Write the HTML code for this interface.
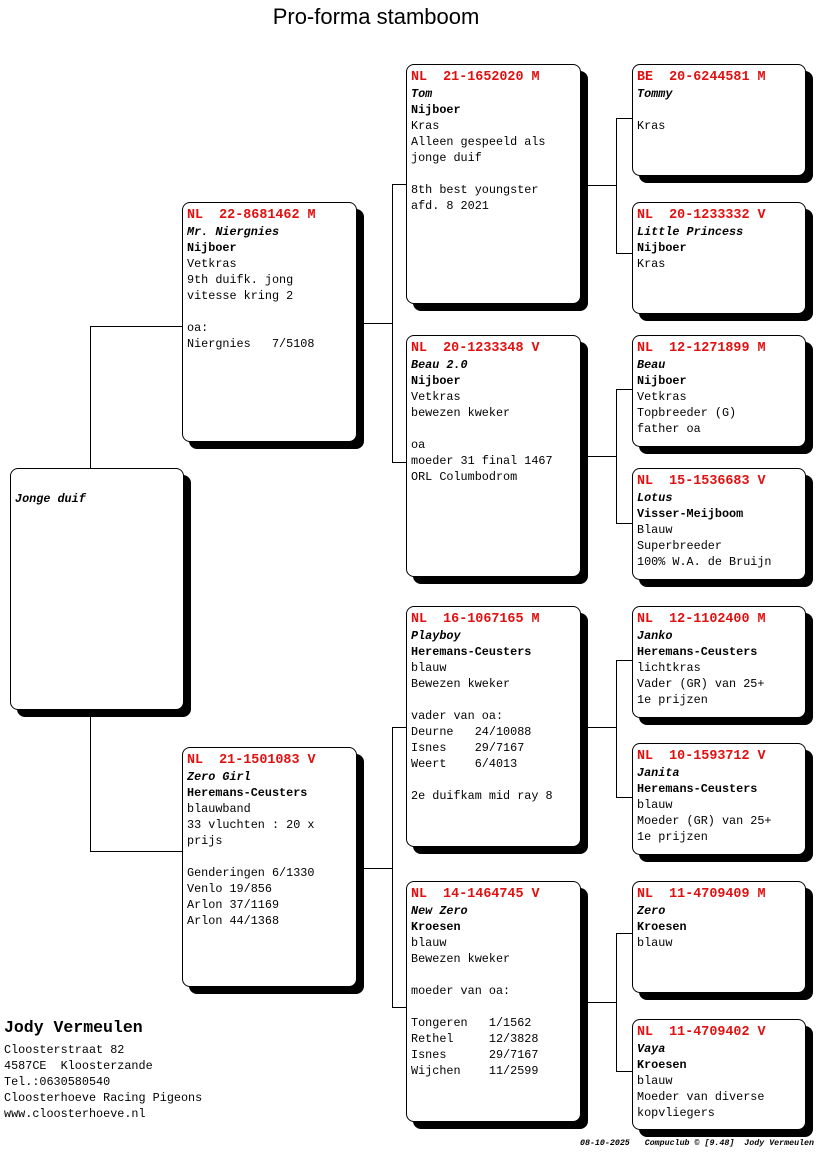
<!DOCTYPE html>
<html><head><meta charset="utf-8"><style>
body{margin:0;width:816px;height:1172px;background:#fff;position:relative;overflow:hidden;font-family:"Liberation Mono",monospace;}
.b{position:absolute;border:1px solid #000;border-radius:8px;background:#fff;box-shadow:7px 7px 0 #000;box-sizing:border-box;padding:4px 0 0 4px;font-size:11.8px;line-height:16px;color:#000;white-space:pre;}
.h{color:#e01010;font-weight:bold;font-size:13.4px;}
.i{font-style:italic;font-weight:bold;}
.s{font-weight:bold;}
.l{position:absolute;background:#000;}
.t{position:absolute;white-space:pre;}
</style></head><body>
<div class="t" style="left:0;width:752px;top:4px;text-align:center;font-family:'Liberation Sans',sans-serif;font-size:22px;">Pro-forma stamboom</div>

<div class="l" style="left:90px;top:326px;width:1px;height:142px"></div>
<div class="l" style="left:90px;top:710px;width:1px;height:141px"></div>
<div class="l" style="left:90px;top:326px;width:92px;height:1px"></div>
<div class="l" style="left:90px;top:851px;width:92px;height:1px"></div>

<div class="l" style="left:357px;top:323px;width:35px;height:1px"></div>
<div class="l" style="left:392px;top:184px;width:1px;height:278px"></div>
<div class="l" style="left:392px;top:184px;width:14px;height:1px"></div>
<div class="l" style="left:392px;top:462px;width:14px;height:1px"></div>

<div class="l" style="left:357px;top:868px;width:35px;height:1px"></div>
<div class="l" style="left:392px;top:727px;width:1px;height:281px"></div>
<div class="l" style="left:392px;top:727px;width:14px;height:1px"></div>
<div class="l" style="left:392px;top:1007px;width:14px;height:1px"></div>

<div class="l" style="left:581px;top:185px;width:35px;height:1px"></div>
<div class="l" style="left:616px;top:118px;width:1px;height:136px"></div>
<div class="l" style="left:616px;top:118px;width:16px;height:1px"></div>
<div class="l" style="left:616px;top:253px;width:16px;height:1px"></div>

<div class="l" style="left:581px;top:456px;width:35px;height:1px"></div>
<div class="l" style="left:616px;top:389px;width:1px;height:135px"></div>
<div class="l" style="left:616px;top:389px;width:16px;height:1px"></div>
<div class="l" style="left:616px;top:523px;width:16px;height:1px"></div>

<div class="l" style="left:581px;top:727px;width:35px;height:1px"></div>
<div class="l" style="left:616px;top:660px;width:1px;height:138px"></div>
<div class="l" style="left:616px;top:660px;width:16px;height:1px"></div>
<div class="l" style="left:616px;top:797px;width:16px;height:1px"></div>

<div class="l" style="left:581px;top:1002px;width:35px;height:1px"></div>
<div class="l" style="left:616px;top:933px;width:1px;height:139px"></div>
<div class="l" style="left:616px;top:933px;width:16px;height:1px"></div>
<div class="l" style="left:616px;top:1071px;width:16px;height:1px"></div>

<div class="b" style="left:10px;top:468px;width:174px;height:242px;padding-top:22px"><span class="i">Jonge duif</span></div>

<div class="b" style="left:182px;top:202px;width:175px;height:240px"><span class="h">NL  22-8681462 M</span>
<span class="i">Mr. Niergnies</span>
<span class="s">Nijboer</span>
Vetkras
9th duifk. jong
vitesse kring 2

oa:
Niergnies   7/5108</div>
<div class="b" style="left:182px;top:747px;width:175px;height:240px"><span class="h">NL  21-1501083 V</span>
<span class="i">Zero Girl</span>
<span class="s">Heremans-Ceusters</span>
blauwband
33 vluchten : 20 x
prijs

Genderingen 6/1330
Venlo 19/856
Arlon 37/1169
Arlon 44/1368</div>

<div class="b" style="left:406px;top:64px;width:175px;height:240px"><span class="h">NL  21-1652020 M</span>
<span class="i">Tom</span>
<span class="s">Nijboer</span>
Kras
Alleen gespeeld als
jonge duif

8th best youngster
afd. 8 2021</div>
<div class="b" style="left:406px;top:335px;width:175px;height:242px"><span class="h">NL  20-1233348 V</span>
<span class="i">Beau 2.0</span>
<span class="s">Nijboer</span>
Vetkras
bewezen kweker

oa
moeder 31 final 1467
ORL Columbodrom</div>
<div class="b" style="left:406px;top:606px;width:175px;height:241px"><span class="h">NL  16-1067165 M</span>
<span class="i">Playboy</span>
<span class="s">Heremans-Ceusters</span>
blauw
Bewezen kweker

vader van oa:
Deurne   24/10088
Isnes    29/7167
Weert    6/4013

2e duifkam mid ray 8</div>
<div class="b" style="left:406px;top:881px;width:175px;height:241px"><span class="h">NL  14-1464745 V</span>
<span class="i">New Zero</span>
<span class="s">Kroesen</span>
blauw
Bewezen kweker

moeder van oa:

Tongeren   1/1562
Rethel     12/3828
Isnes      29/7167
Wijchen    11/2599</div>

<div class="b" style="left:632px;top:64px;width:174px;height:112px"><span class="h">BE  20-6244581 M</span>
<span class="i">Tommy</span>

Kras</div>
<div class="b" style="left:632px;top:202px;width:174px;height:112px"><span class="h">NL  20-1233332 V</span>
<span class="i">Little Princess</span>
<span class="s">Nijboer</span>
Kras</div>
<div class="b" style="left:632px;top:335px;width:174px;height:112px"><span class="h">NL  12-1271899 M</span>
<span class="i">Beau</span>
<span class="s">Nijboer</span>
Vetkras
Topbreeder (G)
father oa</div>
<div class="b" style="left:632px;top:468px;width:174px;height:112px"><span class="h">NL  15-1536683 V</span>
<span class="i">Lotus</span>
<span class="s">Visser-Meijboom</span>
Blauw
Superbreeder
100% W.A. de Bruijn</div>
<div class="b" style="left:632px;top:606px;width:174px;height:112px"><span class="h">NL  12-1102400 M</span>
<span class="i">Janko</span>
<span class="s">Heremans-Ceusters</span>
lichtkras
Vader (GR) van 25+
1e prijzen</div>
<div class="b" style="left:632px;top:743px;width:174px;height:112px"><span class="h">NL  10-1593712 V</span>
<span class="i">Janita</span>
<span class="s">Heremans-Ceusters</span>
blauw
Moeder (GR) van 25+
1e prijzen</div>
<div class="b" style="left:632px;top:881px;width:174px;height:112px"><span class="h">NL  11-4709409 M</span>
<span class="i">Zero</span>
<span class="s">Kroesen</span>
blauw</div>
<div class="b" style="left:632px;top:1019px;width:174px;height:111px"><span class="h">NL  11-4709402 V</span>
<span class="i">Vaya</span>
<span class="s">Kroesen</span>
blauw
Moeder van diverse
kopvliegers</div>

<div class="t" style="left:4px;top:1018px;font-size:16.5px;font-weight:bold;">Jody Vermeulen</div>
<div class="t" style="left:4px;top:1042px;font-size:11.8px;line-height:16px;">Cloosterstraat 82
4587CE  Kloosterzande
Tel.:0630580540
Cloosterhoeve Racing Pigeons
www.cloosterhoeve.nl</div>
<div class="t" style="left:580px;top:1139px;font-size:8.3px;font-style:italic;font-weight:bold;">08-10-2025   Compuclub © [9.48]  Jody Vermeulen</div>
</body></html>
